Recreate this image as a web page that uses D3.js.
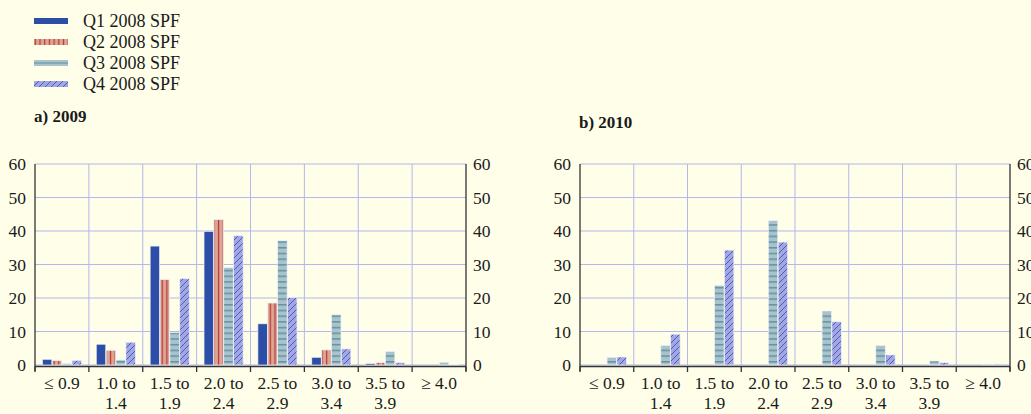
<!DOCTYPE html>
<html>
<head>
<meta charset="utf-8">
<script src="https://cdn.jsdelivr.net/npm/d3@7"></script>
<style>
  body { margin: 0; background: #fefee9; }
  svg { display: block; }
  text { font-family: "Liberation Serif", "Times New Roman", serif; fill: #1a1a1a; }
</style>
</head>
<body>
<svg id="chart" width="1031" height="414"></svg>
<script>
// categories (inflation ranges) and the four survey rounds
const categories = ["≤ 0.9", "1.0 to 1.4", "1.5 to 1.9", "2.0 to 2.4", "2.5 to 2.9", "3.0 to 3.4", "3.5 to 3.9", "≥ 4.0"];
const series = ["Q1 2008 SPF", "Q2 2008 SPF", "Q3 2008 SPF", "Q4 2008 SPF"];
const yTicks = [0, 10, 20, 30, 40, 50, 60];

// a) 2009
const q1_2009 = [1.7, 6.2, 35.5, 39.9, 12.3, 2.3, 0.4, 0];
const q2_2009 = [1.3, 4.4, 25.5, 43.4, 18.5, 4.5, 0.7, 0];
const q3_2009 = [0.4, 1.5, 9.7, 29.1, 37.1, 15.0, 4.0, 0.8];
const q4_2009 = [1.4, 6.8, 25.8, 38.6, 20.1, 4.8, 0.7, 0.2];

// b) 2010 (only asked from Q3 on)
const q1_2010 = [null, null, null, null, null, null, null, null];
const q2_2010 = [null, null, null, null, null, null, null, null];
const q3_2010 = [2.3, 5.8, 23.8, 43.1, 16.1, 5.8, 1.2, 0.3];
const q4_2010 = [2.4, 9.2, 34.3, 36.7, 12.9, 3.0, 0.7, 0.3];

const svg = d3.select("#chart");
const gridColor = "#b3b7ea";
const axisColor = "#333";
const fs = 17.5;

// patterns for the bar fills
const defs = svg.append("defs");
let p = defs.append("pattern").attr("id", "pQ2").attr("patternUnits", "userSpaceOnUse")
  .attr("width", 4.7).attr("height", 10);
p.append("rect").attr("width", 4.7).attr("height", 10).attr("fill", "#dca595");
p.append("rect").attr("x", 1.8).attr("width", 1.2).attr("height", 10).attr("fill", "#b8372f");

p = defs.append("pattern").attr("id", "pQ3").attr("patternUnits", "userSpaceOnUse")
  .attr("width", 10).attr("height", 5.7);
p.append("rect").attr("width", 10).attr("height", 5.7).attr("fill", "#aac3cb");
p.append("rect").attr("y", 2).attr("width", 10).attr("height", 1.4).attr("fill", "#5b8fa0");

p = defs.append("pattern").attr("id", "pQ4").attr("patternUnits", "userSpaceOnUse")
  .attr("width", 6).attr("height", 6);
p.append("rect").attr("width", 6).attr("height", 6).attr("fill", "#a0a7e2");
p.append("path").attr("d", "M0,6 L6,0 M-1.5,1.5 L1.5,-1.5 M4.5,7.5 L7.5,4.5")
  .attr("stroke", "#3a48a8").attr("stroke-width", 0.8);

const fills = ["#2d4ea6", "url(#pQ2)", "url(#pQ3)", "url(#pQ4)"];

// legend
const legend = svg.append("g");
series.forEach((s, i) => {
  const cy = 21 + i * 21;
  if (i === 2) {
    legend.append("rect").attr("x", 34).attr("y", cy - 3).attr("width", 34).attr("height", 6).attr("fill", "#aac3cb");
    legend.append("line").attr("x1", 34).attr("x2", 68).attr("y1", cy).attr("y2", cy)
      .attr("stroke", "#5b8fa0").attr("stroke-width", 1.2);
  } else {
    legend.append("rect").attr("x", 34).attr("y", cy - 3).attr("width", 34).attr("height", 6).attr("fill", fills[i]);
  }
  legend.append("text").attr("x", 83).attr("y", cy + 5.5).attr("font-size", 18).text(s);
});

function drawPanel(title, titleY, left, right, data) {
  const top = 164, bottom = 365;
  const g = svg.append("g");

  const x = d3.scaleBand().domain(categories).range([left, right]).padding(0);
  const xs = d3.scaleBand().domain(series).range([7, x.bandwidth() - 7]).padding(0.04);
  const y = d3.scaleLinear().domain([0, 60]).range([bottom, top]);

  g.append("text").attr("x", left - 1).attr("y", titleY).attr("font-size", 17)
    .attr("font-weight", "bold").text(title);

  // grid
  g.selectAll(".hg").data(yTicks).join("line")
    .attr("x1", left).attr("x2", right)
    .attr("y1", d => y(d)).attr("y2", d => y(d))
    .attr("stroke", gridColor).attr("stroke-width", 1);
  g.selectAll(".vg").data(categories.slice(1)).join("line")
    .attr("x1", d => x(d)).attr("x2", d => x(d))
    .attr("y1", top).attr("y2", bottom)
    .attr("stroke", gridColor).attr("stroke-width", 1);

  // bars
  series.forEach((s, si) => {
    const vals = data[si];
    const bars = categories.map((c, ci) => ({ c, v: vals[ci] })).filter(d => d.v != null && d.v > 0);
    g.selectAll(".b" + si).data(bars).join("rect")
      .attr("x", d => x(d.c) + xs(s))
      .attr("y", d => y(d.v))
      .attr("width", xs.bandwidth())
      .attr("height", d => y(0) - y(d.v))
      .attr("fill", fills[si])
      .attr("stroke", "#eef0fa").attr("stroke-width", 0.7);
  });

  // left & right axis lines with labels
  g.append("line").attr("x1", left).attr("x2", left).attr("y1", top).attr("y2", bottom + 6)
    .attr("stroke", axisColor).attr("stroke-width", 1.3);
  g.append("line").attr("x1", right).attr("x2", right).attr("y1", top).attr("y2", bottom + 6)
    .attr("stroke", axisColor).attr("stroke-width", 1.3);

  const yl = g.append("g").attr("transform", `translate(${left - 7},0)`)
    .call(d3.axisLeft(y).tickValues(yTicks).tickSize(0).tickPadding(2));
  const yr = g.append("g").attr("transform", `translate(${right + 5},0)`)
    .call(d3.axisRight(y).tickValues(yTicks).tickSize(0).tickPadding(2));
  [yl, yr].forEach(a => {
    a.select(".domain").remove();
    a.selectAll("text").attr("font-size", fs).attr("font-family", "Liberation Serif").attr("fill", "#1a1a1a");
  });

  // bottom axis line and boundary ticks
  g.append("line").attr("x1", left).attr("x2", right).attr("y1", bottom + 1.5).attr("y2", bottom + 1.5)
    .attr("stroke", axisColor).attr("stroke-width", 1.3);
  const bounds = categories.map(c => x(c)).concat([right]);
  g.selectAll(".bt").data(bounds).join("line")
    .attr("x1", d => d).attr("x2", d => d)
    .attr("y1", bottom + 1.5).attr("y2", bottom + 7)
    .attr("stroke", axisColor).attr("stroke-width", 1.3);

  // category labels (split on " to ")
  categories.forEach(c => {
    const parts = c.includes(" to ") ? [c.split(" to ")[0] + " to", c.split(" to ")[1]] : [c];
    const t = g.append("text").attr("text-anchor", "middle").attr("font-size", fs);
    parts.forEach((ln, li) => {
      t.append("tspan").attr("x", x(c) + x.bandwidth() / 2).attr("y", 389 + li * 19.5).text(ln);
    });
  });
}

drawPanel("a) 2009", 122, 35, 466, [q1_2009, q2_2009, q3_2009, q4_2009]);
drawPanel("b) 2010", 128, 580, 1010, [q1_2010, q2_2010, q3_2010, q4_2010]);
</script>
</body>
</html>
